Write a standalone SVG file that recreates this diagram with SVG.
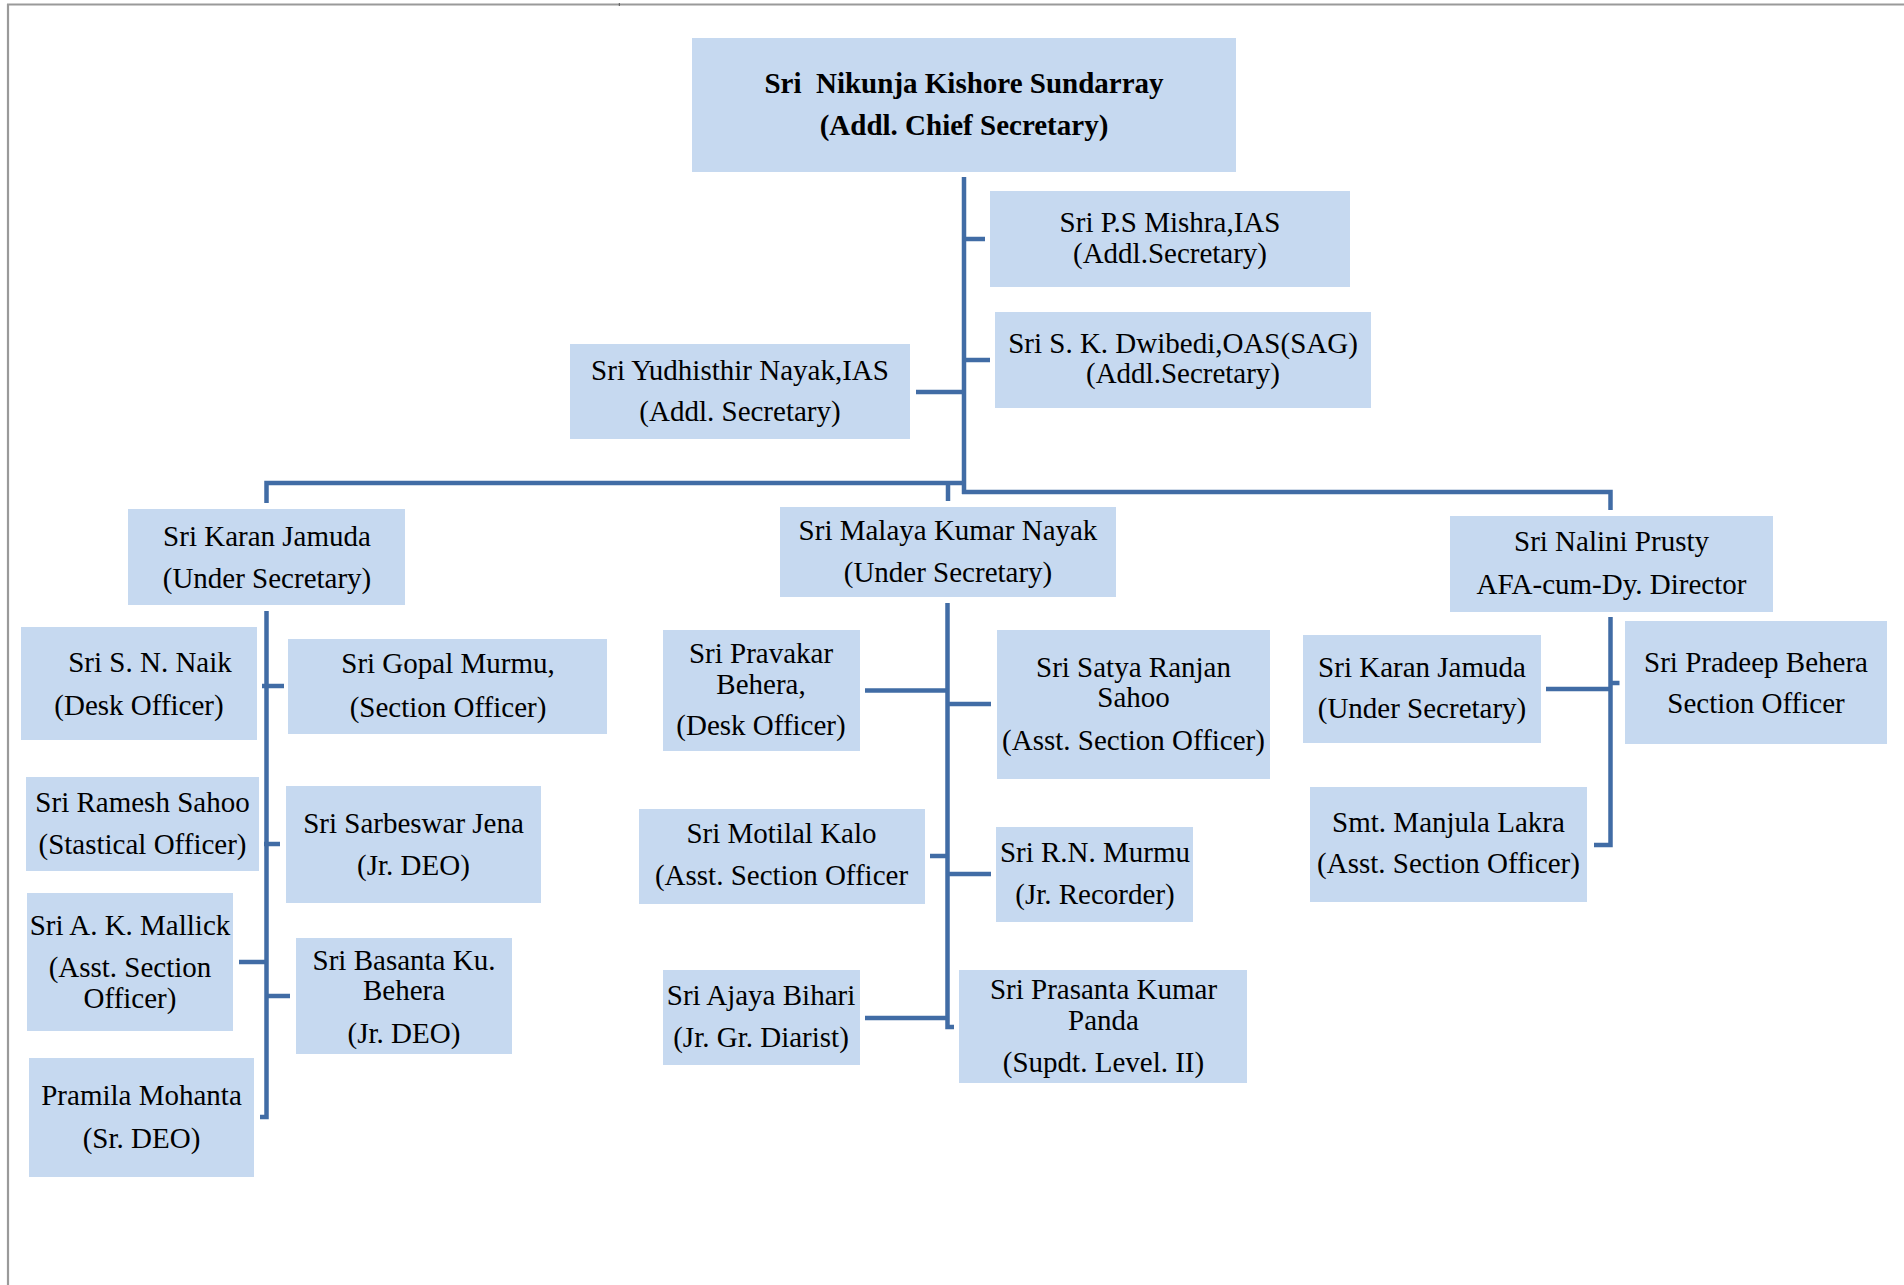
<svg xmlns="http://www.w3.org/2000/svg" width="1904" height="1285" viewBox="0 0 1904 1285">
<style>
.bx{fill:#C6D9F0;}
.t{font-family:"Liberation Serif","Times New Roman",serif;font-size:29px;fill:#000;text-anchor:middle;}
.b{font-weight:bold;}
.c{fill:none;stroke:#416CA5;stroke-width:4.5;stroke-linejoin:miter;stroke-linecap:butt;}
.pg{stroke:#9a9a9a;fill:none;}
</style>
<rect width="1904" height="1285" fill="#fff"/>
<g id="page">
<line class="pg" x1="7" y1="4.5" x2="1904" y2="4.5" stroke-width="1.8"/>
<line class="pg" x1="8" y1="4" x2="8" y2="1285" stroke-width="2.2"/>
<line x1="619.3" y1="3" x2="619.3" y2="6" stroke="#555" stroke-width="1"/>
</g>
<g id="connectors">
<path class="c" d="M964,177 V494"/>
<path class="c" d="M964,239 H985"/>
<path class="c" d="M964,360 H990"/>
<path class="c" d="M916,392 H964"/>
<path class="c" d="M266.5,503 V483 H964"/>
<path class="c" d="M962,492 H1610.5 V510"/>
<path class="c" d="M948,481 V501"/>
<path class="c" d="M266.5,611 V1117 H260"/>
<path class="c" d="M262,686 H284"/>
<path class="c" d="M264,844 H280"/>
<path class="c" d="M239,962 H267"/>
<path class="c" d="M266,996 H290"/>
<path class="c" d="M947.5,603 V1027 H954"/>
<path class="c" d="M865,690.5 H947.5"/>
<path class="c" d="M947.5,704 H991"/>
<path class="c" d="M930,856 H947.5"/>
<path class="c" d="M947.5,874 H991"/>
<path class="c" d="M865,1018 H947.5"/>
<path class="c" d="M1610.5,617 V845 H1594"/>
<path class="c" d="M1546,689 H1610.5"/>
<path class="c" d="M1610.5,683 H1619.5"/>
</g>
<g id="n-nikunja"><rect class="bx" x="692" y="38" width="544" height="134"/>
<text class="t b" x="964" y="93" xml:space="preserve">Sri  Nikunja Kishore Sundarray</text>
<text class="t b" x="964" y="135">(Addl. Chief Secretary)</text></g>
<g id="n-psmishra"><rect class="bx" x="990" y="191" width="360" height="96"/>
<text class="t" x="1170" y="232">Sri P.S Mishra,IAS</text>
<text class="t" x="1170" y="263">(Addl.Secretary)</text></g>
<g id="n-dwibedi"><rect class="bx" x="995" y="312" width="376" height="96"/>
<text class="t" x="1183" y="353">Sri S. K. Dwibedi,OAS(SAG)</text>
<text class="t" x="1183" y="383">(Addl.Secretary)</text></g>
<g id="n-yudhisthir"><rect class="bx" x="570" y="344" width="340" height="95"/>
<text class="t" x="740" y="380">Sri Yudhisthir Nayak,IAS</text>
<text class="t" x="740" y="421">(Addl. Secretary)</text></g>
<g id="n-karan-left"><rect class="bx" x="128" y="509" width="277" height="96"/>
<text class="t" x="267" y="546">Sri Karan Jamuda</text>
<text class="t" x="267" y="588">(Under Secretary)</text></g>
<g id="n-snnaik"><rect class="bx" x="21" y="627" width="236" height="113"/>
<text class="t" x="150" y="672">Sri S. N. Naik</text>
<text class="t" x="139" y="715">(Desk Officer)</text></g>
<g id="n-gopal"><rect class="bx" x="288" y="639" width="319" height="95"/>
<text class="t" x="448" y="673">Sri Gopal Murmu,</text>
<text class="t" x="448" y="716.5">(Section Officer)</text></g>
<g id="n-ramesh"><rect class="bx" x="26" y="777" width="233" height="94"/>
<text class="t" x="142.5" y="811.5">Sri Ramesh Sahoo</text>
<text class="t" x="142.5" y="854">(Stastical Officer)</text></g>
<g id="n-sarbeswar"><rect class="bx" x="286" y="786" width="255" height="117"/>
<text class="t" x="413.5" y="832.5">Sri Sarbeswar Jena</text>
<text class="t" x="413.5" y="875">(Jr. DEO)</text></g>
<g id="n-mallick"><rect class="bx" x="27" y="893" width="206" height="138"/>
<text class="t" x="130" y="934.5">Sri A. K. Mallick</text>
<text class="t" x="130" y="977">(Asst. Section</text>
<text class="t" x="130" y="1008">Officer)</text></g>
<g id="n-basanta"><rect class="bx" x="296" y="938" width="216" height="116"/>
<text class="t" x="404" y="969.5">Sri Basanta Ku.</text>
<text class="t" x="404" y="1000">Behera</text>
<text class="t" x="404" y="1042.5">(Jr. DEO)</text></g>
<g id="n-pramila"><rect class="bx" x="29" y="1058" width="225" height="119"/>
<text class="t" x="141.5" y="1105">Pramila Mohanta</text>
<text class="t" x="141.5" y="1148">(Sr. DEO)</text></g>
<g id="n-malaya"><rect class="bx" x="780" y="507" width="336" height="90"/>
<text class="t" x="948" y="540">Sri Malaya Kumar Nayak</text>
<text class="t" x="948" y="582">(Under Secretary)</text></g>
<g id="n-pravakar"><rect class="bx" x="663" y="630" width="197" height="121"/>
<text class="t" x="761" y="662.5">Sri Pravakar</text>
<text class="t" x="761" y="693.5">Behera,</text>
<text class="t" x="761" y="735">(Desk Officer)</text></g>
<g id="n-satya"><rect class="bx" x="997" y="630" width="273" height="149"/>
<text class="t" x="1133.5" y="676.5">Sri Satya Ranjan</text>
<text class="t" x="1133.5" y="706.5">Sahoo</text>
<text class="t" x="1133.5" y="749.5">(Asst. Section Officer)</text></g>
<g id="n-motilal"><rect class="bx" x="639" y="809" width="286" height="95"/>
<text class="t" x="781.5" y="843">Sri Motilal Kalo</text>
<text class="t" x="781.5" y="885">(Asst. Section Officer</text></g>
<g id="n-rnmurmu"><rect class="bx" x="996" y="827" width="197" height="95"/>
<text class="t" x="1095" y="861.5">Sri R.N. Murmu</text>
<text class="t" x="1095" y="904">(Jr. Recorder)</text></g>
<g id="n-ajaya"><rect class="bx" x="663" y="970" width="197" height="95"/>
<text class="t" x="761" y="1005">Sri Ajaya Bihari</text>
<text class="t" x="761" y="1046.5">(Jr. Gr. Diarist)</text></g>
<g id="n-prasanta"><rect class="bx" x="959" y="970" width="288" height="113"/>
<text class="t" x="1103.5" y="999">Sri Prasanta Kumar</text>
<text class="t" x="1103.5" y="1029.5">Panda</text>
<text class="t" x="1103.5" y="1072">(Supdt. Level. II)</text></g>
<g id="n-nalini"><rect class="bx" x="1450" y="516" width="323" height="96"/>
<text class="t" x="1611.5" y="551">Sri Nalini Prusty</text>
<text class="t" x="1611.5" y="594">AFA-cum-Dy. Director</text></g>
<g id="n-karan-right"><rect class="bx" x="1303" y="635" width="238" height="108"/>
<text class="t" x="1422" y="676.5">Sri Karan Jamuda</text>
<text class="t" x="1422" y="718">(Under Secretary)</text></g>
<g id="n-pradeep"><rect class="bx" x="1625" y="621" width="262" height="123"/>
<text class="t" x="1756" y="671.5">Sri Pradeep Behera</text>
<text class="t" x="1756" y="712.5">Section Officer</text></g>
<g id="n-manjula"><rect class="bx" x="1310" y="787" width="277" height="115"/>
<text class="t" x="1448.5" y="831.5">Smt. Manjula Lakra</text>
<text class="t" x="1448.5" y="873">(Asst. Section Officer)</text></g>
</svg>
